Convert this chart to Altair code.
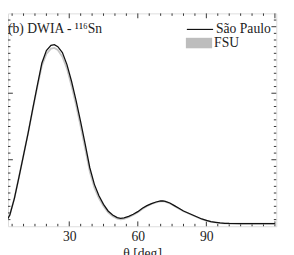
import altair as alt
import pandas as pd

theta = [0, 2, 4, 6, 8, 10, 12, 14, 16, 18, 20, 22, 23.5, 25, 27, 29, 31, 33, 35, 37, 39, 41, 43, 45,
         47, 49, 51, 52.5, 54, 56, 58, 60, 62, 64, 66, 68, 70, 71, 72, 74, 76, 78, 80, 82, 84, 86,
         88, 90, 92, 94, 96, 98, 100, 105, 110, 115, 120]
sao_paulo = [0.00, 0.05, 0.17, 0.42, 0.74, 1.07, 1.40, 1.76, 2.11, 2.45, 2.64, 2.72, 2.73, 2.70, 2.61,
             2.43, 2.18, 1.89, 1.57, 1.23, 0.88, 0.63, 0.46, 0.33, 0.23, 0.17, 0.13, 0.12, 0.125, 0.15,
             0.18, 0.22, 0.27, 0.31, 0.34, 0.365, 0.38, 0.38, 0.375, 0.35, 0.31, 0.27, 0.23, 0.20,
             0.17, 0.14, 0.11, 0.09, 0.07, 0.06, 0.05, 0.045, 0.042, 0.04, 0.04, 0.04, 0.04]
fsu = [0.00, 0.05, 0.17, 0.42, 0.74, 1.07, 1.40, 1.75, 2.09, 2.41, 2.59, 2.67, 2.68, 2.65, 2.55,
       2.37, 2.11, 1.82, 1.50, 1.16, 0.82, 0.58, 0.42, 0.30, 0.21, 0.15, 0.115, 0.105, 0.11, 0.135,
       0.17, 0.21, 0.26, 0.30, 0.335, 0.36, 0.375, 0.375, 0.37, 0.345, 0.305, 0.265, 0.225, 0.195,
       0.165, 0.135, 0.105, 0.085, 0.067, 0.057, 0.049, 0.044, 0.041, 0.04, 0.04, 0.04, 0.04]

x_labels = [30, 60, 90]
x_major = [30, 60, 90, 120]
x_minor = [5, 10, 15, 20, 25, 35, 40, 45, 50, 55, 65, 70, 75, 80, 85, 95, 100, 105, 110, 115]
y_major = [1, 2, 3]
y_minor = [0.1, 0.2, 0.3, 0.4, 0.5, 0.6, 0.7, 0.8, 0.9, 1.1, 1.2, 1.3, 1.4, 1.5, 1.6, 1.7, 1.8, 1.9,
           2.1, 2.2, 2.3, 2.4, 2.5, 2.6, 2.7, 2.8, 2.9, 3.1]

W, H = 276, 219
FONT = "Liberation Serif"
XD = [3.2, 120.6]
YD = [0, 3.2]

df_sp = pd.DataFrame({"theta": theta, "v": sao_paulo, "series": "São Paulo"})
df_fsu = pd.DataFrame({"theta": theta, "v": fsu, "series": "FSU"})

xs = alt.Scale(domain=XD, nice=False, zero=False)
ys = alt.Scale(domain=YD, nice=False, zero=False)

x_axis = alt.Axis(values=x_labels, domain=False, ticks=False, grid=False, labelFont=FONT,
                  labelFontSize=14, labelColor="#222", labelPadding=4, title="θ [deg]",
                  titleFont=FONT, titleFontSize=14, titleFontWeight="normal", titleColor="#222",
                  titlePadding=3)
y_axis = alt.Axis(labels=False, domain=False, ticks=False, grid=False, title=None)

fsu_layer = alt.Chart(df_fsu).mark_line(strokeWidth=1.8, clip=True).encode(
    x=alt.X("theta:Q", scale=xs, axis=x_axis),
    y=alt.Y("v:Q", scale=ys, axis=y_axis),
    stroke=alt.Stroke("series:N", scale=alt.Scale(domain=["FSU"], range=["#c6c6c6"]),
                      legend=alt.Legend(title=None, orient="none", legendX=183, legendY=17,
                                        symbolType="M-1,-0.4H1V0.4H-1Z", symbolSize=729,
                                        symbolFillColor="#bdbdbd", symbolStrokeWidth=0,
                                        labelFont=FONT, labelFontSize=14, labelColor="#222",
                                        labelOffset=2, padding=0)),
)

sp_layer = alt.Chart(df_sp).mark_line(strokeWidth=1.3, clip=True).encode(
    x=alt.X("theta:Q", scale=xs, axis=x_axis),
    y=alt.Y("v:Q", scale=ys, axis=y_axis),
    color=alt.Color("series:N", scale=alt.Scale(domain=["São Paulo"], range=["#111111"]),
                    legend=alt.Legend(title=None, orient="none", legendX=183, legendY=2,
                                      symbolType="stroke", symbolSize=729, symbolStrokeWidth=1.2,
                                      labelFont=FONT, labelFontSize=14, labelColor="#222",
                                      labelOffset=2, padding=0)),
)

def xticks(vals, length):
    d = pd.DataFrame({"t": vals})
    bottom = alt.Chart(d).mark_rule(color="#333", strokeWidth=1).encode(
        x=alt.X("t:Q", scale=xs), y=alt.value(H), y2=alt.value(H - length))
    top = alt.Chart(d).mark_rule(color="#333", strokeWidth=1).encode(
        x=alt.X("t:Q", scale=xs), y=alt.value(0), y2=alt.value(length))
    return [bottom, top]

def yticks(vals, length):
    d = pd.DataFrame({"t": vals})
    left = alt.Chart(d).mark_rule(color="#333", strokeWidth=1).encode(
        y=alt.Y("t:Q", scale=ys), x=alt.value(0), x2=alt.value(length))
    right = alt.Chart(d).mark_rule(color="#333", strokeWidth=1).encode(
        y=alt.Y("t:Q", scale=ys), x=alt.value(W), x2=alt.value(W - length))
    return [left, right]

label = alt.Chart(pd.DataFrame({"t": ["(b) DWIA - ¹¹⁶Sn"]})).mark_text(
    font=FONT, fontSize=14, color="#222", align="left", baseline="alphabetic").encode(
    text="t:N", x=alt.value(0), y=alt.value(20))

layers = (xticks(x_major, 5) + xticks(x_minor, 2.5) + yticks(y_major, 5) + yticks(y_minor, 2.5)
          + [fsu_layer, sp_layer, label])

chart = alt.layer(*layers).resolve_scale(color="independent", stroke="independent").properties(
    width=W, height=H, autosize=alt.AutoSizeParams(type="none"),
    padding={"left": 0, "top": 2, "right": 10, "bottom": 26},
).configure_view(stroke="#333", strokeWidth=1).configure(background="white")

chart.save("out.html", embed_options={"renderer": "svg", "actions": False})
